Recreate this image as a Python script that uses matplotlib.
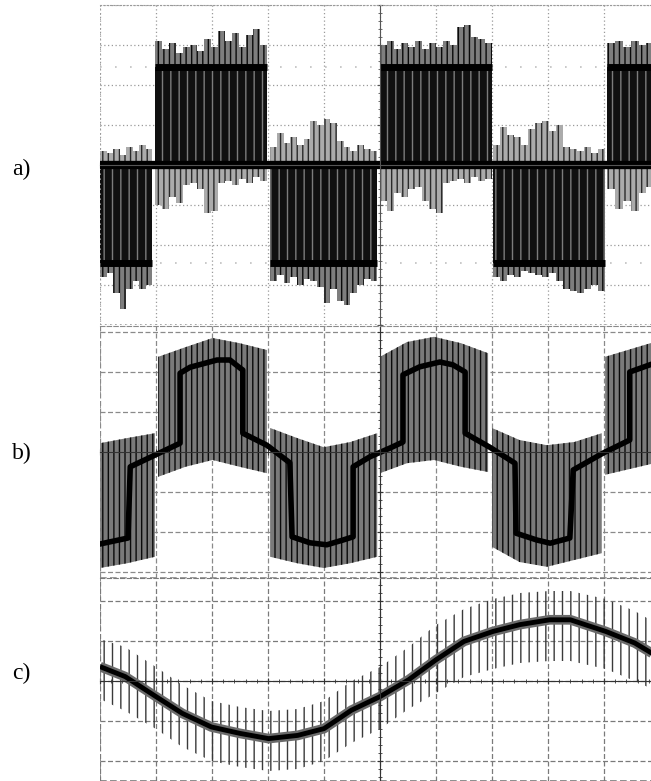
import numpy as np
import matplotlib.pyplot as plt
from matplotlib.ticker import MultipleLocator

# All x values are in scope divisions from the left screen edge,
# all y values in divisions from the trace centre line.

# ------------------------------------------------------------
# a) phase voltage, three-level PWM blocks
# ------------------------------------------------------------
a_block_start = [0.00, 0.98, 3.04, 5.00, 7.02, 9.05]
a_block_end = [0.93, 2.98, 4.95, 7.00, 9.02, 9.90]
a_block_level = [-2.45, 2.45, -2.45, 2.45, -2.45, 2.45]
a_zero_level = 0.0
# spike tips beyond the switching level
a_outer_tips = [
    [-2.8, -2.7, -3.2, -3.6, -3.1, -2.9, -3.1, -3.0],
    [3.1, 2.9, 3.05, 2.8, 2.95, 3.0, 2.85, 3.15, 2.95, 3.35, 3.1, 3.3, 2.95, 3.25, 3.4, 3.0],
    [-2.9, -2.75, -2.95, -2.8, -3.0, -2.85, -2.9, -3.05, -3.45, -3.1, -3.4, -3.5, -3.2, -3.0, -2.85, -2.9],
    [3.0, 3.1, 2.9, 3.05, 2.95, 3.1, 2.9, 3.05, 2.95, 3.1, 3.0, 3.45, 3.5, 3.2, 3.15, 3.05],
    [-2.8, -2.9, -2.75, -2.8, -2.65, -2.7, -2.75, -2.8, -2.7, -2.9, -3.1, -3.15, -3.2, -3.1, -3.0, -3.15],
    [3.05, 3.1, 2.95, 3.1, 3.0, 3.05],
]
# spike tips crossing the zero band on the other side
a_inner_tips = [
    [0.35, 0.3, 0.4, 0.25, 0.45, 0.35, 0.5, 0.4],
    [-1.0, -1.1, -0.8, -0.95, -0.5, -0.45, -0.6, -1.2, -1.15, -0.45, -0.4, -0.5, -0.35, -0.45, -0.3, -0.4],
    [0.45, 0.8, 0.55, 0.7, 0.5, 0.65, 1.1, 1.0, 1.15, 1.05, 0.6, 0.45, 0.35, 0.5, 0.4, 0.35],
    [-0.9, -1.15, -0.7, -0.8, -0.6, -0.55, -0.9, -1.1, -1.2, -0.45, -0.4, -0.35, -0.45, -0.3, -0.4, -0.35],
    [0.5, 0.95, 0.75, 0.7, 0.5, 0.9, 1.05, 1.1, 0.85, 1.0, 0.45, 0.4, 0.35, 0.45, 0.3, 0.4],
    [-0.6, -1.1, -0.9, -1.15, -0.7, -0.55],
]

# ------------------------------------------------------------
# b) line voltage, switching bands and dense trace
# ------------------------------------------------------------
b_block_start = [0.00, 1.04, 3.04, 5.00, 7.00, 9.02]
b_block_end = [0.98, 2.98, 4.95, 6.93, 8.96, 9.90]
b_band_top = [
    [0.22, 0.35, 0.47],
    [2.38, 2.62, 2.85, 2.72, 2.55],
    [0.60, 0.35, 0.12, 0.25, 0.47],
    [2.38, 2.75, 2.88, 2.72, 2.47],
    [0.60, 0.30, 0.17, 0.25, 0.47],
    [2.38, 2.75],
]
b_band_bot = [
    [-2.90, -2.78, -2.62],
    [-0.62, -0.37, -0.20, -0.37, -0.53],
    [-2.62, -2.78, -2.90, -2.78, -2.62],
    [-0.53, -0.28, -0.20, -0.37, -0.50],
    [-2.37, -2.75, -2.87, -2.70, -2.53],
    [-0.57, -0.28],
]
b_trace_x = [0.00, 0.50, 0.54, 1.43, 1.43, 1.61, 2.09, 2.32, 2.50, 2.55, 2.55, 2.98, 3.39,
             3.43, 3.75, 4.05, 4.34, 4.52, 4.52, 4.82, 5.18, 5.41, 5.41, 5.71, 6.07, 6.30,
             6.52, 6.52, 6.96, 7.41, 7.43, 7.80, 8.04, 8.39, 8.45, 8.98, 9.46, 9.46, 9.90]
b_trace_y = [-2.30, -2.15, -0.37, 0.22, 1.97, 2.12, 2.30, 2.30, 2.10, 2.05, 0.47, 0.17, -0.27,
             -2.12, -2.27, -2.32, -2.20, -2.12, -0.37, -0.12, 0.10, 0.25, 1.93, 2.13, 2.25, 2.18,
             2.00, 0.47, 0.12, -0.28, -2.03, -2.20, -2.28, -2.15, -0.45, -0.03, 0.30, 2.00, 2.22]

# ------------------------------------------------------------
# c) phase current with switching spikes
# ------------------------------------------------------------
c_x = [0.0, 0.45, 1.0, 1.47, 1.99, 2.5, 3.01, 3.53, 4.0, 4.49, 5.0,
       5.51, 6.0, 6.5, 7.02, 7.5, 8.03, 8.4, 9.03, 9.55, 9.86]
c_y = [0.36, 0.11, -0.39, -0.81, -1.15, -1.31, -1.44, -1.36, -1.19, -0.73, -0.39,
       0.03, 0.53, 0.99, 1.24, 1.41, 1.53, 1.53, 1.24, 0.95, 0.69]
c_spike_up = [1.05, 0.85, 0.35, -0.1, -0.5, -0.65, -0.75, -0.7, -0.5, 0.0, 0.35,
              0.85, 1.4, 1.8, 2.05, 2.2, 2.25, 2.25, 2.05, 1.75, 1.5]
c_spike_dn = [-0.45, -0.75, -1.2, -1.65, -2.0, -2.15, -2.25, -2.2, -2.0, -1.55, -1.2,
              -0.7, -0.3, 0.1, 0.3, 0.45, 0.5, 0.5, 0.3, 0.0, -0.2]

W, H = 651, 781
fig = plt.figure(figsize=(W / 100, H / 100), dpi=100)
plt.rcParams['hatch.linewidth'] = 1.0


def make_screen(bottom_px, top_px, ylim, grid_ls, grid_color, axis_color):
    ax = fig.add_axes([100 / W, 1 - bottom_px / H, 560 / W, (bottom_px - top_px) / H])
    ax.set_xlim(0, 10)
    ax.set_ylim(*ylim)
    ax.xaxis.set_major_locator(MultipleLocator(1))
    ax.yaxis.set_major_locator(MultipleLocator(1))
    ax.xaxis.set_minor_locator(MultipleLocator(0.2))
    ax.yaxis.set_minor_locator(MultipleLocator(0.2))
    ax.grid(True, which='major', ls=grid_ls, color=grid_color, lw=0.9)
    ax.set_axisbelow(True)
    ax.spines['left'].set_position(('data', 5))
    ax.spines['bottom'].set_position(('data', 0))
    for s in ('left', 'bottom'):
        ax.spines[s].set_color(axis_color)
        ax.spines[s].set_linewidth(0.8)
    ax.spines['right'].set_visible(False)
    ax.spines['top'].set_linestyle(grid_ls)
    ax.spines['top'].set_color(grid_color)
    ax.axvline(0, ls=grid_ls, color=grid_color, lw=1.2)
    ax.axhline(ylim[0], ls=grid_ls, color=grid_color, lw=1.2)
    ax.tick_params(which='both', direction='inout', color=axis_color,
                   labelbottom=False, labelleft=False)
    ax.tick_params(which='major', length=5)
    ax.tick_params(which='minor', length=3)
    return ax


# ---- panel a
ax_a = make_screen(325, 5, (-4, 4), (0, (1, 2)), '#9a9a9a', '#555555')
for lvl in (2.45, -2.45):
    ax_a.axhline(lvl, ls=(0, (1, 8)), color='#c0c0c0', lw=1.2, zorder=0.6)
for x0, x1, lvl, outer, inner in zip(a_block_start, a_block_end, a_block_level,
                                      a_outer_tips, a_inner_tips):
    xs = np.linspace(x0, x1, len(outer) + 1)
    ax_a.fill_between(xs, np.append(outer, outer[-1]), lvl, step='post',
                      facecolor='#7e7e7e', edgecolor='#0a0a0a', hatch='|||', lw=0)
    xs = np.linspace(x0, x1, len(inner) + 1)
    ax_a.fill_between(xs, np.append(inner, inner[-1]), a_zero_level, step='post',
                      facecolor='#ababab', edgecolor='#2a2a2a', hatch='|||', lw=0)
    ax_a.fill_between([x0, x1], a_zero_level, lvl,
                      facecolor='#101010', edgecolor='#7c7c7c', hatch='||', lw=0)
    ax_a.plot([x0, x1], [lvl, lvl], color='black', lw=5, solid_capstyle='butt')
ax_a.axhline(a_zero_level, color='black', lw=6)

# ---- panel b
ax_b = make_screen(578, 326, (-3.15, 3.15), (0, (4, 2)), '#8a8a8a', '#333333')
for x0, x1, top, bot in zip(b_block_start, b_block_end, b_band_top, b_band_bot):
    xs = np.linspace(x0, x1, len(top))
    ax_b.fill_between(xs, bot, top, facecolor='#7a7a7a', edgecolor='#0a0a0a',
                      hatch='|||', lw=0)
ax_b.plot(b_trace_x, b_trace_y, color='black', lw=4, solid_joinstyle='round')

# ---- panel c
ax_c = make_screen(781, 578, (-2.5, 2.575), (0, (4, 2)), '#7a7a7a', '#333333')
ax_c.fill_between(c_x, c_spike_dn, c_spike_up, facecolor='none', edgecolor='#3a3a3a',
                  hatch='||', lw=0)
ax_c.plot(c_x, c_y, color='#6a6a6a', lw=7, solid_capstyle='butt')
ax_c.plot(c_x, c_y, color='black', lw=3.5, solid_capstyle='butt')

for label, ypx in (('a)', 169), ('b)', 453), ('c)', 673)):
    fig.text(12 / W, 1 - ypx / H, label, ha='left', va='center',
             fontsize=17, family='Liberation Serif')

fig.savefig('out.png', dpi=100)
